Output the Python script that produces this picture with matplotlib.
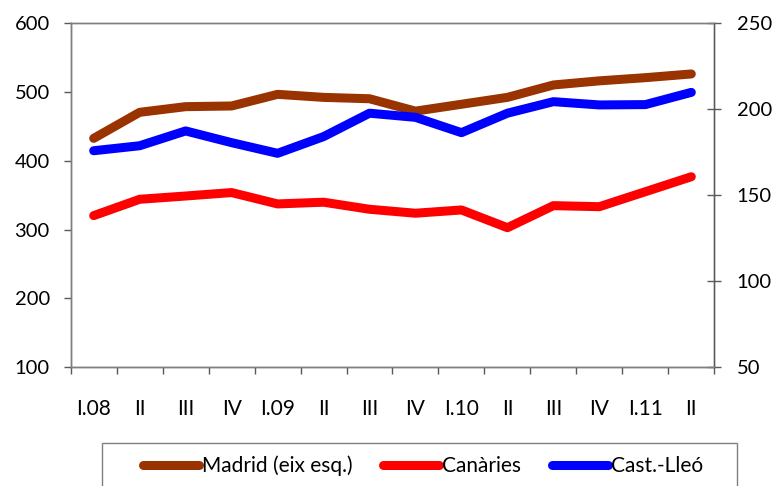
import matplotlib
matplotlib.use("Agg")
import matplotlib.pyplot as plt
from matplotlib.patches import Rectangle
import numpy as np

categories = ["I.08", "II", "III", "IV", "I.09", "II", "III", "IV",
              "I.10", "II", "III", "IV", "I.11", "II"]
madrid = [432.5, 470.3, 478.5, 479.5, 496.4, 492, 490, 472, 482, 492, 510, 516, 520.6, 526]
canaries = [138.1, 147.6, 149.5, 151.5, 144.9, 145.9, 141.8, 139.5, 141.4, 131.1, 143.9, 143.3, 152, 160.7]
castlleo = [175.8, 178.7, 187.3, 180.5, 174.3, 184, 197.6, 195.2, 186.3, 197.6, 204.3, 202.4, 202.6, 209.7]
labels = ["Madrid (eix esq.)", "Canàries", "Cast.-Lleó"]
left_ticks = [100, 200, 300, 400, 500, 600]
right_ticks = [50, 100, 150, 200, 250]

plt.rcParams['font.family'] = ['Lato', 'DejaVu Sans']

W, H = 775, 486
fig = plt.figure(figsize=(W / 100, H / 100), dpi=100)
ax = fig.add_axes([70.7 / W, 1 - 367.3 / H, (714.3 - 70.7) / W, (367.3 - 23) / H])
ax2 = ax.twinx()

x = np.arange(len(categories))
lw = 6.5
kw = dict(solid_capstyle='round', solid_joinstyle='round', lw=lw)
l1, = ax.plot(x, madrid, color='#993300', **kw)
l2, = ax2.plot(x, canaries, color='#FF0000', **kw)
l3, = ax2.plot(x, castlleo, color='#0000FF', **kw)

ax.set_xlim(-0.5, len(categories) - 0.5)
ax.set_ylim(100, 600)
ax2.set_ylim(50, 250)
ax.set_yticks(left_ticks)
ax2.set_yticks(right_ticks)

ax.set_xticks(np.arange(-0.5, len(categories), 1.0))
ax.set_xticklabels([])
ax.set_xticks(x, minor=True)
ax.set_xticklabels(categories, minor=True, fontsize=15)
ax.tick_params(axis='x', which='minor', length=0, pad=23)
ax.tick_params(axis='x', which='major', direction='out', length=5, width=1, color='#595959')
ax.tick_params(axis='y', direction='out', length=5, width=1, color='#595959', labelsize=14.5, pad=10)
ax2.tick_params(axis='y', direction='inout', length=10, width=1, color='#595959', labelsize=14.5, pad=11)

for a in (ax, ax2):
    for s in a.spines.values():
        s.set_color('#7f7f7f')
        s.set_linewidth(1.0)
ax.spines['left'].set_color('#595959')
ax2.spines['right'].set_color('#595959')
ax.spines['bottom'].set_color('#595959')

# legend frame (extends below the figure edge)
fig.patches.append(Rectangle((101.7 / W, 1 - 500 / H), (737.3 - 101.7) / W, (500 - 442.7) / H,
                             transform=fig.transFigure, fill=False, edgecolor='#7f7f7f',
                             lw=1.0, clip_on=False))
fig.legend([l1, l2, l3], labels, ncol=3, loc='center',
           bbox_to_anchor=(423 / W, 1 - 466 / H), frameon=False, fontsize=15,
           handlelength=2.7, handletextpad=0.15, columnspacing=1.45)

fig.savefig("out.png", dpi=100)
